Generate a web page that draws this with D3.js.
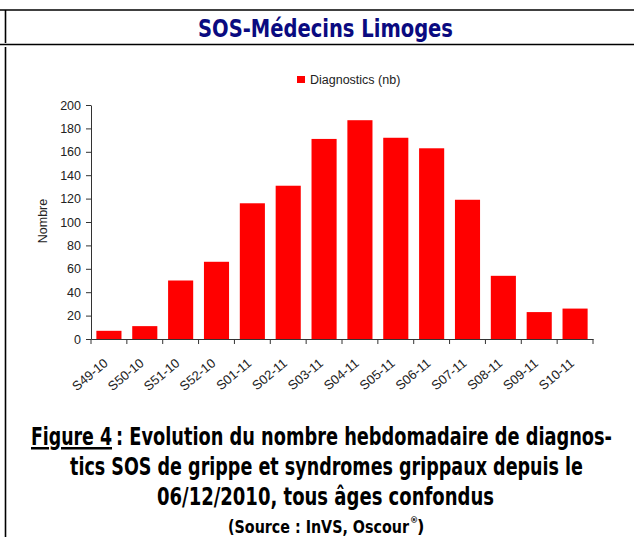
<!DOCTYPE html>
<html>
<head>
<meta charset="utf-8">
<script src="https://cdn.jsdelivr.net/npm/d3@7"></script>
<style>
  body { margin: 0; background: #fff; }
  svg { display: block; }
  .axis text { font-family: "Liberation Sans", Arial, sans-serif; font-size: 12.5px; fill: #222; }
  .x.axis text { font-size: 13px; }
  .axis path, .axis line { stroke: #333; }
  .cond { font-family: "DejaVu Sans Condensed", "DejaVu Sans", sans-serif; font-stretch: condensed; font-weight: bold; }
</style>
</head>
<body>
<div id="vis"></div>
<script>
// weekly SOS diagnostics
var weeks = ['S49-10', 'S50-10', 'S51-10', 'S52-10', 'S01-11', 'S02-11', 'S03-11',
             'S04-11', 'S05-11', 'S06-11', 'S07-11', 'S08-11', 'S09-11', 'S10-11'];
var diagnostics = [7, 11, 50, 66, 116, 131, 171, 187, 172, 163, 119, 54, 23, 26];
var yTicks = [0, 20, 40, 60, 80, 100, 120, 140, 160, 180, 200];
var seriesName = 'Diagnostics (nb)';

var width = 634;
var height = 537;
var margin = { top: 105, left: 91, bottom: 198, right: 41 };

var svg = d3.select('#vis').append('svg')
    .attr('width', width)
    .attr('height', height);

// frame lines of the page
svg.append('line').attr('x1', 0).attr('x2', width).attr('y1', 10).attr('y2', 10)
    .attr('stroke', '#000').attr('stroke-width', 1.6);
svg.append('line').attr('x1', 0).attr('x2', width).attr('y1', 44.5).attr('y2', 44.5)
    .attr('stroke', '#000').attr('stroke-width', 1.6);
svg.append('line').attr('x1', 5.5).attr('x2', 5.5).attr('y1', 10).attr('y2', 43)
    .attr('stroke', '#000').attr('stroke-width', 1.6);
svg.append('line').attr('x1', 5.5).attr('x2', 5.5).attr('y1', 47).attr('y2', height)
    .attr('stroke', '#000').attr('stroke-width', 1.6);

// header
svg.append('text')
    .attr('class', 'cond')
    .attr('x', 198)
    .attr('y', 37)
    .attr('textLength', 255)
    .attr('lengthAdjust', 'spacingAndGlyphs')
    .style('font-size', '25px')
    .attr('fill', '#0a0a80')
    .text('SOS-Médecins Limoges');

// scales
var x = d3.scaleBand()
    .domain(weeks)
    .range([margin.left, width - margin.right])
    .paddingInner(0.3)
    .paddingOuter(0.15);

var y = d3.scaleLinear()
    .domain([0, 200])
    .range([height - margin.bottom, margin.top]);

var g = svg.append('g');

// bars
g.selectAll('.bar')
    .data(diagnostics)
    .enter()
    .append('rect')
    .attr('class', 'bar')
    .attr('x', function (d, i) { return x(weeks[i]); })
    .attr('y', function (d) { return y(d); })
    .attr('width', x.bandwidth())
    .attr('height', function (d) { return y(0) - y(d); })
    .attr('fill', '#ff0000');

// y axis
var yAxis = d3.axisLeft(y)
    .tickValues(yTicks)
    .tickSize(5)
    .tickSizeOuter(0);
g.append('g')
    .attr('class', 'y axis')
    .attr('transform', 'translate(' + margin.left + ',0)')
    .call(yAxis)
    .call(function (a) { a.selectAll('text').attr('x', -10); });

// x axis, labels only, ticks drawn at the category boundaries
var xAxis = d3.axisBottom(x).tickSize(0).tickSizeOuter(0);
var xa = g.append('g')
    .attr('class', 'x axis')
    .attr('transform', 'translate(0,' + y(0) + ')')
    .call(xAxis);
xa.selectAll('text')
    .attr('text-anchor', 'end')
    .attr('dy', '0.35em')
    .attr('transform', 'translate(-3,22) rotate(-40)')
    .attr('x', 0)
    .attr('y', 0);
var bounds = weeks.map(function (w) { return x(w) - x.step() * x.paddingInner() / 2; });
bounds.push(x.range()[1]);
xa.selectAll('.bound')
    .data(bounds)
    .enter()
    .append('line')
    .attr('class', 'bound')
    .attr('x1', function (d) { return d; })
    .attr('x2', function (d) { return d; })
    .attr('y1', 0)
    .attr('y2', 5);

// y title
g.append('text')
    .attr('transform', 'translate(47,221) rotate(-90)')
    .attr('text-anchor', 'middle')
    .style('font-family', '"Liberation Sans", Arial, sans-serif')
    .style('font-size', '12.5px')
    .attr('fill', '#222')
    .text('Nombre');

// legend
svg.append('rect')
    .attr('x', 297)
    .attr('y', 76)
    .attr('width', 8)
    .attr('height', 7)
    .attr('fill', '#ff0000');
svg.append('text')
    .attr('x', 310)
    .attr('y', 80)
    .attr('dy', '0.35em')
    .style('font-family', '"Liberation Sans", Arial, sans-serif')
    .style('font-size', '12.5px')
    .attr('fill', '#222')
    .text(seriesName);

// caption
svg.append('text')
    .attr('class', 'cond')
    .attr('x', 31)
    .attr('y', 445)
    .attr('textLength', 81)
    .attr('lengthAdjust', 'spacingAndGlyphs')
    .attr('text-decoration', 'underline')
    .style('font-size', '25px')
    .text('Figure 4');

svg.append('text')
    .attr('class', 'cond')
    .attr('x', 116)
    .attr('y', 445)
    .attr('textLength', 496)
    .attr('lengthAdjust', 'spacingAndGlyphs')
    .style('font-size', '25px')
    .text(': Evolution du nombre hebdomadaire de diagnos-');

svg.append('text')
    .attr('class', 'cond')
    .attr('x', 70)
    .attr('y', 475)
    .attr('textLength', 513)
    .attr('lengthAdjust', 'spacingAndGlyphs')
    .style('font-size', '25px')
    .text('tics SOS de grippe et syndromes grippaux depuis le');

svg.append('text')
    .attr('class', 'cond')
    .attr('x', 157)
    .attr('y', 505)
    .attr('textLength', 337)
    .attr('lengthAdjust', 'spacingAndGlyphs')
    .style('font-size', '25px')
    .text('06/12/2010, tous âges confondus');

svg.append('text')
    .attr('class', 'cond')
    .attr('x', 228)
    .attr('y', 533)
    .attr('textLength', 181)
    .attr('lengthAdjust', 'spacingAndGlyphs')
    .style('font-size', '18px')
    .text('(Source : InVS, Oscour');
svg.append('text')
    .attr('class', 'cond')
    .attr('x', 410)
    .attr('y', 523)
    .style('font-size', '9px')
    .text('®');
svg.append('text')
    .attr('class', 'cond')
    .attr('x', 417)
    .attr('y', 533)
    .style('font-size', '18px')
    .text(')');
</script>
</body>
</html>
